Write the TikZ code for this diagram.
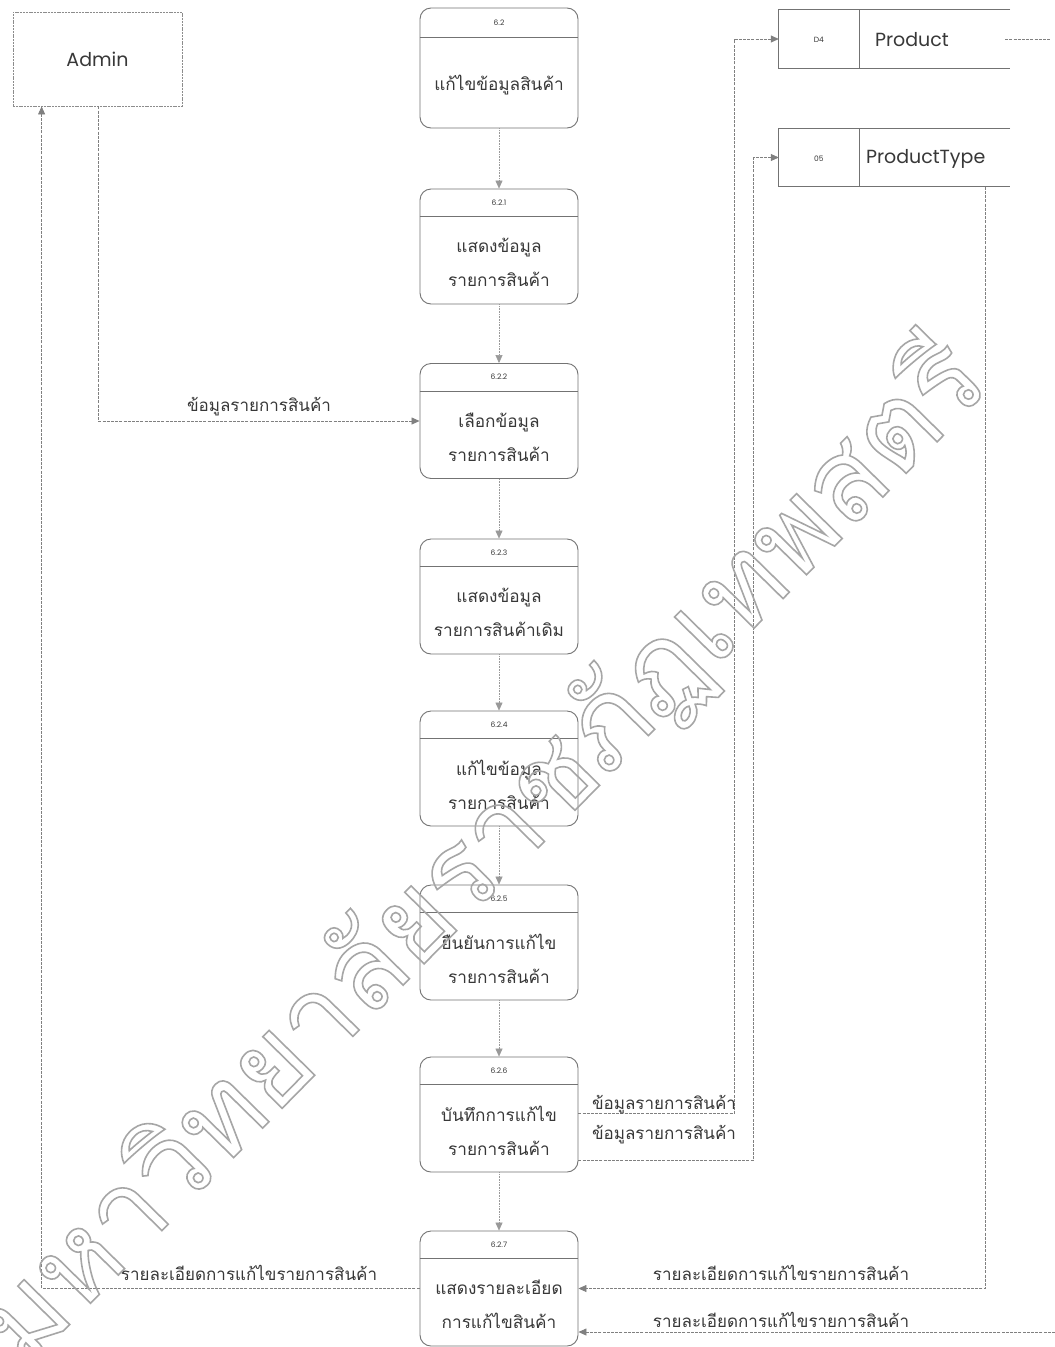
\documentclass[tikz,border=0pt]{standalone}
\usepackage{fontspec}
\setmainfont{Poppins}
\newfontfamily\thai[Script=Thai]{Loma}
\usetikzlibrary{arrows.meta,calc}

% outlined lettering for the background stamp
\newcommand{\hollowtext}[1]{\special{pdf:code 1 Tr 1.6 w}#1\special{pdf:code 0 Tr}}

\begin{document}
\begin{tikzpicture}[x=1pt,y=-1pt,
  every node/.style={inner sep=0pt, text=black!78},
  proc/.style={draw=black!55, line width=0.9pt, rounded corners=11pt,
    minimum width=158pt, minimum height=115pt},
  divline/.style={draw=black!55, line width=0.8pt},
  idtxt/.style={font=\fontsize{7.5}{8}\selectfont},
  ptxt/.style={font=\thai\fontsize{17.2}{34}\selectfont, align=center},
  lbl/.style={font=\thai\fontsize{17}{20}\selectfont},
  ent/.style={draw=black!45, line width=0.8pt, dash pattern=on 2pt off 0.8pt,
    minimum width=169pt, minimum height=94pt},
  store/.style={minimum width=231pt, minimum height=58pt},
  storeline/.style={draw=black!55, line width=0.8pt},
  tip/.style={-{Triangle[length=8pt,width=7pt]}},
  flow/.style={draw=black!50, line width=0.7pt, dash pattern=on 3pt off 1.2pt, tip},
  vflow/.style={draw=black!40, line width=0.6pt, densely dotted, tip},
]
\useasboundingbox[fill=white] (0,0) rectangle (1055,1347);

% external entity
\node[ent, font=\fontsize{19}{20}\selectfont] (admin) at (97.5,59) {Admin};

% data stores
\node[store] (d4) at (894.5,39) {};
\node[store] (d5) at (894.5,157.5) {};
\foreach \s/\code/\name/\off in {d4/D4/Product/96, d5/05/ProductType/87}{
  \draw[storeline] (\s.north east) -- (\s.north west) -- (\s.south west) -- (\s.south east);
  \draw[storeline] ($(\s.north west)+(81,0)$) -- ($(\s.south west)+(81,0)$);
  \node[idtxt] (\s code) at ($(\s.west)+(40,1)$) {\code};
  \node[font=\fontsize{19}{20}\selectfont, anchor=west] (\s name) at ($(\s.west)+(\off,1)$) {\name};
}

% processes
\node[proc, minimum height=120pt] (p0) at (499,68) {};
\node[proc] (p1) at (499,246.5) {};
\node[proc] (p2) at (499,421) {};
\node[proc] (p3) at (499,596.5) {};
\node[proc] (p4) at (499,768.5) {};
\node[proc] (p5) at (499,942.5) {};
\node[proc] (p6) at (499,1114.5) {};
\node[proc] (p7) at (499,1288.5) {};

\draw[divline] ($(p0.north west)+(0,30)$) -- ($(p0.north east)+(0,30)$);
\foreach \p in {p1,p2,p3,p4,p5,p6,p7}{
  \draw[divline] ($(\p.north west)+(0,28)$) -- ($(\p.north east)+(0,28)$);
}

\node[idtxt] (p0id) at ($(p0.north)+(0,15)$) {6.2};
\node[idtxt] (p1id) at ($(p1.north)+(0,14)$) {6.2.1};
\node[idtxt] (p2id) at ($(p2.north)+(0,14)$) {6.2.2};
\node[idtxt] (p3id) at ($(p3.north)+(0,14)$) {6.2.3};
\node[idtxt] (p4id) at ($(p4.north)+(0,14)$) {6.2.4};
\node[idtxt] (p5id) at ($(p5.north)+(0,14)$) {6.2.5};
\node[idtxt] (p6id) at ($(p6.north)+(0,14)$) {6.2.6};
\node[idtxt] (p7id) at ($(p7.north)+(0,14)$) {6.2.7};

\node[ptxt] (p0txt) at ($(p0.north)+(0,77)$) {แก้ไขข้อมูลสินค้า};
\node[ptxt] (p1txt) at ($(p1.north)+(0,74)$) {แสดงข้อมูล\\รายการสินค้า};
\node[ptxt] (p2txt) at ($(p2.north)+(0,74)$) {เลือกข้อมูล\\รายการสินค้า};
\node[ptxt] (p3txt) at ($(p3.north)+(0,74)$) {แสดงข้อมูล\\รายการสินค้าเดิม};
\node[ptxt] (p4txt) at ($(p4.north)+(0,74)$) {แก้ไขข้อมูล\\รายการสินค้า};
\node[ptxt] (p5txt) at ($(p5.north)+(0,74)$) {ยืนยันการแก้ไข\\รายการสินค้า};
\node[ptxt] (p6txt) at ($(p6.north)+(0,74)$) {บันทึกการแก้ไข\\รายการสินค้า};
\node[ptxt] (p7txt) at ($(p7.north)+(0,74)$) {แสดงรายละเอียด\\การแก้ไขสินค้า};

% sequence between processes
\foreach \a/\b in {p0/p1,p1/p2,p2/p3,p3/p4,p4/p5,p5/p6,p6/p7}{
  \draw[vflow] (\a.south) -- (\b.north);
}

% data flows
\draw[flow] ($(admin.south)+(0.5,0)$) |- (p2.west);
\node[lbl] (l1) at (259,407) {ข้อมูลรายการสินค้า};

\draw[flow] (p7.west) -| ($(admin.south west)+(29,0)$);
\node[lbl] (l2) at (249,1273) {รายละเอียดการแก้ไขรายการสินค้า};

\draw[flow] ($(p6.east)+(0,-1)$) -| ($(d4.west)+(-44,0)$) -- (d4.west);
\node[lbl] (l3) at (664,1105) {ข้อมูลรายการสินค้า};

\draw[flow] ($(p6.south east)+(0,-12)$) -| ($(d5.west)+(-25,0)$) -- (d5.west);
\node[lbl] (l4) at (664,1135) {ข้อมูลรายการสินค้า};

\draw[flow] ($(d5.south east)+(-25,0)$) |- (p7.east);
\node[lbl] (l5) at (781,1273) {รายละเอียดการแก้ไขรายการสินค้า};

\coordinate (inR) at (1055,1332);
\draw[flow] (inR) -- (p7.east |- inR);
\node[lbl] (l6) at (781,1320) {รายละเอียดการแก้ไขรายการสินค้า};

\coordinate (outR) at (1050,39);
\draw[flow, -] ($(d4.east)+(-5,0)$) -- (outR);

% background stamp
\node[rotate=45.5, text=black!35, font=\thai\fontsize{115}{115}\selectfont] (stamp) at (482,852)
  {\hollowtext{มหาวิทยาลัยราชภัฏเทพสตรี}};
\end{tikzpicture}
\end{document}
